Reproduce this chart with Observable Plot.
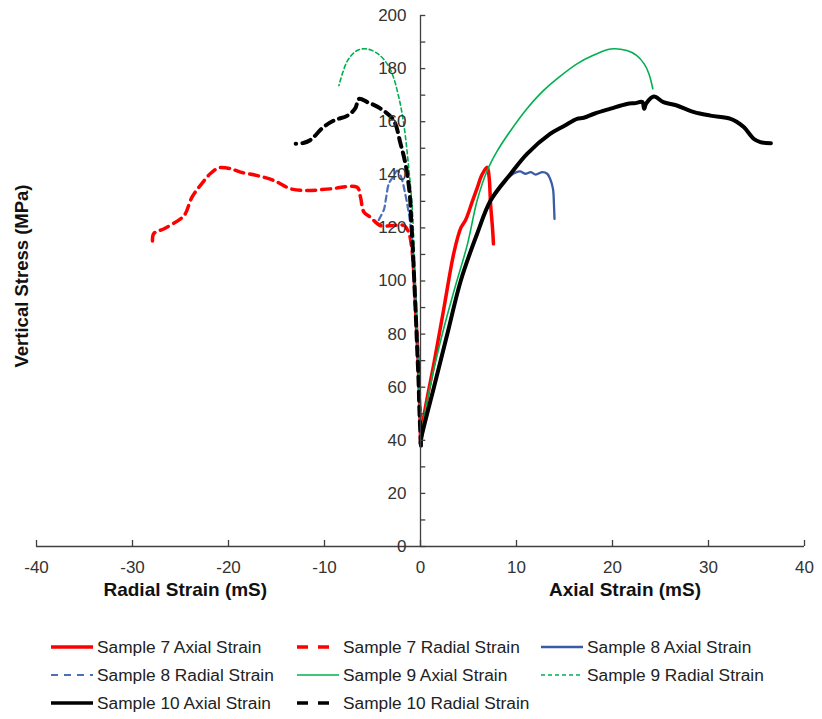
<!DOCTYPE html>
<html>
<head>
<meta charset="utf-8">
<script src="https://cdn.jsdelivr.net/npm/d3@7"></script>
<script src="https://cdn.jsdelivr.net/npm/@observablehq/plot@0.6"></script>
<style>
  body { margin: 0; background: #fff; }
  #wrap { position: relative; width: 822px; height: 719px; font-family: "Liberation Sans", Arial, sans-serif; }
  .leg { position: absolute; display: flex; align-items: center; font-size: 17.3px; color: #222; white-space: nowrap; }
  .leg svg { margin-right: 4px; }
</style>
</head>
<body>
<div id="wrap"><div id="chart"></div></div>
<script>
// ---- data (x = strain in mS, y = vertical stress in MPa) ----
const s7Axial = [[0.05,40],[0.35,49],[1.4,69],[2.4,89],[3.5,111],[4.2,120],[4.7,123],[5.4,130],[5.9,135],[6.4,140],[6.95,142.8],[7.15,139],[7.3,129],[7.5,120],[7.6,114]];
const s7Radial = [[0,40],[-0.1,55],[-0.25,70],[-0.45,85],[-0.65,100],[-0.9,112],[-1.2,118],[-1.7,120.9],[-2.8,120.9],[-4.2,120.9],[-5.2,124],[-5.9,126],[-6.25,131.6],[-6.6,135.3],[-9.4,134.7],[-11.8,134.1],[-13.5,134.7],[-15.3,137.9],[-17,139.7],[-18.75,141],[-19.8,142.3],[-21.0,142.6],[-21.9,140.4],[-22.8,136.6],[-23.8,131.6],[-24.5,125.3],[-25,123.4],[-26.7,119.7],[-27.8,117.8],[-27.9,114]];
const s8Axial = [[0,40],[1.4,60],[2.8,80],[4.2,100],[5.9,118],[7.3,130],[8.4,136],[9.4,139.7],[10.0,141],[10.4,141.3],[10.9,140.4],[11.5,141],[12.0,140.1],[12.7,141],[13.2,140.4],[13.5,138.5],[13.8,134.7],[13.9,129],[13.96,123.4]];
const s8Radial = [[0,40],[-0.1,55],[-0.25,70],[-0.4,85],[-0.6,100],[-0.85,115],[-1.2,125],[-1.6,133],[-2.0,139],[-2.4,141.6],[-2.9,139],[-3.3,136.6],[-3.6,131],[-3.8,127],[-4.2,124],[-4.5,122]];
const s9Axial = [[0,40],[0.7,55],[2.1,77.6],[3.5,96.4],[4.9,114],[5.9,130.3],[6.95,141.6],[8,149],[9.4,156.7],[11,164.5],[12.8,171.7],[14.5,177],[16.3,181.8],[18,185],[19.8,187.4],[21.5,186.8],[22.5,185],[23.3,181.8],[23.8,178],[24.2,172.4]];
const s9Radial = [[0,40],[-0.1,55],[-0.25,70],[-0.4,85],[-0.55,100],[-0.7,115],[-0.87,128],[-1.2,141.6],[-1.7,158],[-2.26,169.2],[-3.1,179.3],[-4.2,184.9],[-5.55,187.4],[-6.6,186.8],[-7.6,183],[-8.5,173.6]];
const s10Axial = [[0,39],[0.17,42.4],[1.4,60],[2.8,80.1],[4.2,100.2],[5.9,117.8],[7.3,130.3],[9.4,140.4],[11.1,147.9],[13.5,155.4],[15,158.5],[16.3,161.1],[17,161.5],[18.1,163],[19.8,164.9],[21.5,166.7],[22.4,167],[23.1,167.4],[23.3,164.9],[23.5,166.8],[24.3,169.5],[25.3,167.4],[26.7,166.1],[28.5,163.6],[30.2,162.3],[32.3,161.1],[33.0,159.8],[33.7,157.9],[34.7,153.6],[35.4,152.3],[36.5,151.9]];
const s10Radial = [[0.05,38],[-0.1,50],[-0.2,62],[-0.35,75],[-0.5,88],[-0.65,100],[-0.8,112],[-1.0,125],[-1.1,132],[-1.56,144],[-2.1,152],[-2.8,160.5],[-4.2,165],[-5.55,167.4],[-6.4,168.6],[-6.8,165],[-7.6,162.3],[-9.0,160.5],[-10.1,158],[-11.5,153],[-12.2,152],[-13.0,151.7]];

const xTicks = [-40,-30,-20,-10,0,10,20,30,40];
const yMinorTicks = d3.range(0, 201, 10);
const yTickLabels = [0,20,40,60,80,100,120,140,160,180,200];
const xTitle = ["Radial Strain (mS)", "Axial Strain (mS)"];
const xTitlePos = [-24.5, 21.3];
const yTitle = "Vertical Stress (MPa)";

// ---- series styles ----
const series = [
  {name:"Sample 7 Axial Strain",  data:s7Axial,  color:"#ff0000", width:3.5, dash:null,  legDash:null},
  {name:"Sample 7 Radial Strain", data:s7Radial, color:"#ff0000", width:3.5, dash:"9,6", legDash:"11,10"},
  {name:"Sample 8 Axial Strain",  data:s8Axial,  color:"#3a5ca6", width:2.3, dash:null,  legDash:null},
  {name:"Sample 8 Radial Strain", data:s8Radial, color:"#4a70b8", width:2.2, dash:"6,4", legDash:"7,6"},
  {name:"Sample 9 Axial Strain",  data:s9Axial,  color:"#00b050", width:1.6, dash:null,  legDash:null},
  {name:"Sample 9 Radial Strain", data:s9Radial, color:"#00b050", width:1.6, dash:"4,3", legDash:"4,3"},
  {name:"Sample 10 Axial Strain", data:s10Axial, color:"#000000", width:4,   dash:null,  legDash:null},
  {name:"Sample 10 Radial Strain",data:s10Radial,color:"#000000", width:4,   dash:"9,6", legDash:"11,10"}
];

const axisColor = "#404040";
const lineMarks = series.map(s => Plot.line(s.data, {
  x: d => d[0], y: d => d[1], stroke: s.color, strokeWidth: s.width,
  strokeDasharray: s.dash, curve: "catmull-rom", strokeLinejoin: "round"
}));

const chart = Plot.plot({
  width: 822, height: 606,
  marginLeft: 36, marginRight: 18, marginTop: 15, marginBottom: 60,
  x: {domain: [-40, 40], axis: null},
  y: {domain: [0, 200], axis: null},
  style: {fontFamily: '"Liberation Sans", Arial, sans-serif', background: "#fff", overflow: "visible"},
  marks: [
    ...lineMarks,
    Plot.ruleY([0], {stroke: axisColor, strokeWidth: 1.3}),
    Plot.ruleX([0], {stroke: axisColor, strokeWidth: 1.3}),
    Plot.ruleX(xTicks, {x: d => d, y1: 0, y2: 2.3, stroke: axisColor, strokeWidth: 1.3}),
    Plot.ruleY(yMinorTicks, {y: d => d, x1: 0, x2: 0.55, stroke: axisColor, strokeWidth: 1.3}),
    Plot.text(xTicks, {x: d => d, y: 0, text: d => String(d), dy: 21, fontSize: 17, fill: "#333"}),
    Plot.text(yTickLabels, {x: 0, y: d => d, text: d => String(d), dx: -14, textAnchor: "end", fontSize: 17, fill: "#333"}),
    Plot.text(xTitle, {x: (d, i) => xTitlePos[i], y: 0, text: d => d, dy: 43, fontSize: 19, fontWeight: "bold", fill: "#111"}),
    Plot.text([yTitle], {frameAnchor: "left", textAnchor: "middle", text: d => d, rotate: -90, dx: -14, dy: -5, fontSize: 18.5, fontWeight: "bold", fill: "#111"})
  ]
});
document.getElementById("chart").appendChild(chart);

// ---- legend ----
const legCols = [51, 297, 541];
const legRows = [647, 675, 703];
const wrap = document.getElementById("wrap");
series.forEach((s, i) => {
  const col = i % 3, row = Math.floor(i / 3);
  const div = document.createElement("div");
  div.className = "leg";
  div.style.left = legCols[col] + "px";
  div.style.top = (legRows[row] - 12) + "px";
  div.style.height = "24px";
  const sw = d3.create("svg").attr("width", 42).attr("height", 10);
  sw.append("line").attr("x1", 0).attr("x2", 42).attr("y1", 5).attr("y2", 5)
    .attr("stroke", s.color).attr("stroke-width", Math.min(s.width, 3.5))
    .attr("stroke-dasharray", s.legDash);
  div.appendChild(sw.node());
  const sp = document.createElement("span");
  sp.textContent = s.name;
  div.appendChild(sp);
  wrap.appendChild(div);
});
</script>
</body>
</html>
